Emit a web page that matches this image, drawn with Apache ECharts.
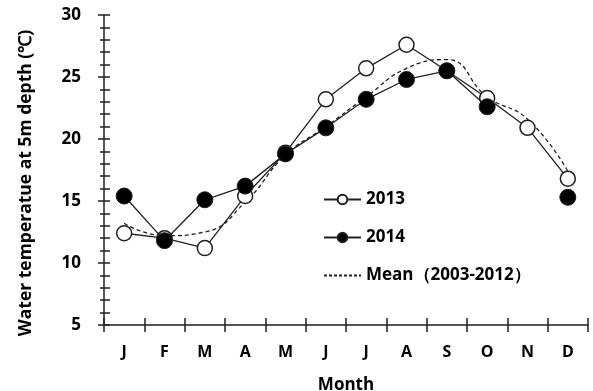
<!DOCTYPE html>
<html><head><meta charset="utf-8">
<script src="https://cdn.jsdelivr.net/npm/echarts@6/dist/echarts.min.js"></script>
<style>html,body{margin:0;padding:0;background:#fff}#c{width:593px;height:391px}</style>
</head><body><div id="c"></div>
<script>
var months = ['J','F','M','A','M','J','J','A','S','O','N','D'];
var y2013 = [12.4, 12.0, 11.2, 15.4, 18.9, 23.2, 25.7, 27.6, 25.5, 23.3, 20.9, 16.8];
var y2014 = [15.4, 11.8, 15.1, 16.2, 18.8, 20.9, 23.2, 24.8, 25.5, 22.6, null, 15.3];
var yMean = [13.2, 12.2, 12.5, 14.9, 18.7, 21.0, 23.4, 25.7, 26.4, 23.4, 21.6, 17.4];
var FONT = 'Open Sans';
var INK = '#231f20';
var chart = echarts.init(document.getElementById('c'));
chart.setOption({
  animation: false,
  backgroundColor: '#fff',
  grid: {left: 104, right: 5, top: 15, bottom: 66, outerBoundsMode: 'none', containLabel: false},
  legend: {
    orient: 'vertical', left: 318, top: 186, itemWidth: 37, itemHeight: 12, itemGap: 21,
    textStyle: {fontFamily: FONT, fontWeight: 'bold', fontSize: 17, color: '#000'},
    data: ['2013', '2014', {name: 'Mean（2003-2012）', itemStyle: {opacity: 0}, lineStyle: {type: [3, 2]}}]
  },
  xAxis: [{
    type: 'category', data: months, boundaryGap: true, offset: 0,
    axisLine: {lineStyle: {color: INK, width: 1.5}},
    axisTick: {show: true, length: 7, lineStyle: {color: INK, width: 1.5}},
    axisLabel: {margin: 19, fontFamily: FONT, fontWeight: 'bold', fontSize: 16, color: '#000'},
    name: 'Month', nameLocation: 'middle', nameGap: 52,
    nameTextStyle: {fontFamily: FONT, fontWeight: 'bold', fontSize: 17, color: '#000'}
  }, {
    type: 'category', data: months, boundaryGap: true, position: 'top', offset: -310,
    axisLine: {show: false},
    axisTick: {show: true, length: 7, lineStyle: {color: INK, width: 1.5}},
    axisLabel: {show: false}
  }],
  yAxis: [{
    type: 'value', min: 5, max: 30, interval: 5, offset: 0,
    splitLine: {show: false},
    axisLine: {show: true, lineStyle: {color: INK, width: 1.5}},
    axisTick: {show: true, length: 6, lineStyle: {color: INK, width: 1.5}},
    minorTick: {show: true, splitNumber: 5, length: 4, lineStyle: {color: INK, width: 1.5}},
    axisLabel: {margin: 23, fontFamily: FONT, fontWeight: 'bold', fontSize: 17, color: '#000'}
  }, {
    type: 'value', min: 5, max: 30, interval: 5, position: 'right', offset: -484,
    splitLine: {show: false},
    axisLine: {show: false},
    axisTick: {show: true, length: 6, lineStyle: {color: INK, width: 1.5}},
    minorTick: {show: true, splitNumber: 5, length: 6, lineStyle: {color: INK, width: 1.5}},
    axisLabel: {show: false}
  }],
  graphic: [{
    type: 'text', x: 26, y: 183, rotation: Math.PI / 2,
    style: {text: 'Water temperatue at 5m depth (℃)', fontFamily: FONT, fontWeight: 'bold', fontSize: 17.5,
      fill: '#000', align: 'center', verticalAlign: 'middle'}
  }],
  series: [{
    name: 'Mean（2003-2012）', type: 'line', data: yMean, smooth: 0.5, symbol: 'none',
    lineStyle: {color: INK, width: 1.3, type: [4, 3]}, itemStyle: {color: INK}, z: 1
  }, {
    name: '2013', type: 'line', data: y2013, symbol: 'circle', symbolSize: 15,
    lineStyle: {color: INK, width: 1.3}, itemStyle: {color: '#fff', borderColor: INK, borderWidth: 1.5}, z: 2
  }, {
    name: '2014', type: 'line', data: y2014, symbol: 'circle', symbolSize: 16, connectNulls: false,
    lineStyle: {color: INK, width: 1.3}, itemStyle: {color: '#000', borderColor: INK, borderWidth: 1}, z: 3
  }]
});
</script></body></html>
